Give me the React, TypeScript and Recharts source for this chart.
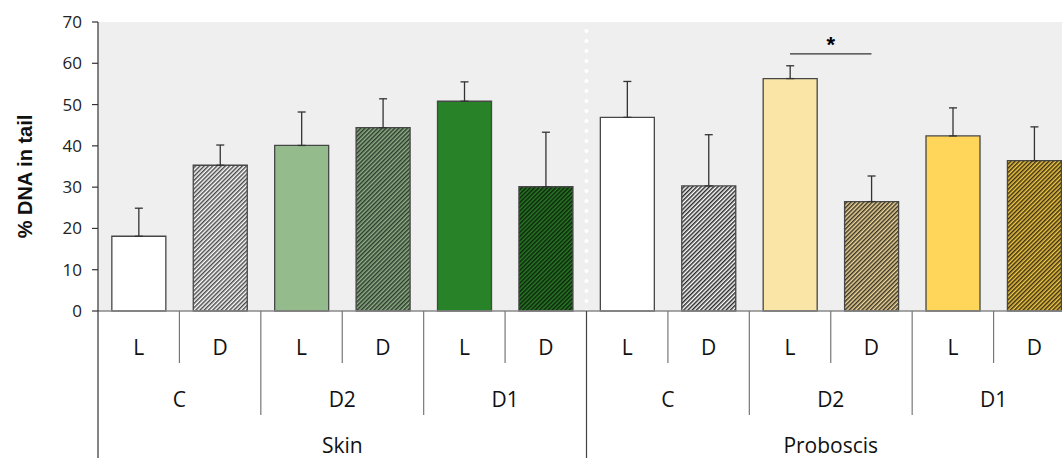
import React from 'react'
import { BarChart, Bar, XAxis, YAxis, CartesianGrid, ErrorBar, Cell, ReferenceLine } from 'recharts'

const tissues = ['Skin', 'Proboscis']
const treatments = ['C', 'D2', 'D1']
const conditions = ['L', 'D']

// mean % DNA in tail and upper error, in tissue > treatment > condition order
const means = [18.1, 35.3, 40.1, 44.4, 50.8, 30.1, 46.9, 30.3, 56.3, 26.5, 42.4, 36.4]
const errors = [6.8, 4.9, 8.1, 7.0, 4.7, 13.2, 8.7, 12.4, 3.1, 6.2, 6.8, 8.2]

const yTicks = [0, 10, 20, 30, 40, 50, 60, 70]

// significance bracket between proboscis D2 light and dark
const sigLevel = 62.3

const FILLS = [
  '#ffffff', 'url(#hatchGrey)', '#93bb8c', 'url(#hatchSage)', '#288227', 'url(#hatchForest)',
  '#ffffff', 'url(#hatchDark)', '#fae5a7', 'url(#hatchTan)', '#ffd55a', 'url(#hatchGold)',
]

const data = tissues.flatMap((tissue, t) =>
  treatments.flatMap((treatment, g) =>
    conditions.map((condition, c) => {
      const i = t * 6 + g * 2 + c
      return {
        key: `${tissue}-${treatment}-${condition}`,
        tissue,
        treatment,
        condition,
        mean: means[i],
        err: errors[i],
      }
    })
  )
)

const hatch = (id: string, bg: string, fg: string) => (
  <pattern id={id} width="3" height="3" patternUnits="userSpaceOnUse" patternTransform="rotate(45)">
    <rect width="3" height="3" fill={bg} />
    <line x1="0.75" y1="0" x2="0.75" y2="3" stroke={fg} strokeWidth="1.5" />
  </pattern>
)

const CHART_H = 458
const AXIS_Y = 311

// three-row category axis: condition / treatment / tissue, with divider lines
function GroupTick(props: any) {
  const { x, y, payload } = props
  const i: number = payload.index ?? props.index
  const half: number = payload.offset || 40.7
  const d = data[i]
  const bottom = CHART_H - y
  const txt = { fontSize: 21, fill: '#111', textAnchor: 'middle' as const }
  return (
    <g>
      <text x={x} y={y + 44} {...txt}>{d.condition}</text>
      {i % 2 === 0 && <line x1={x + half} x2={x + half} y1={y} y2={y + 52} stroke="#777" strokeWidth={1.2} />}
      {i % 2 === 1 && i % 6 !== 5 && <line x1={x + half} x2={x + half} y1={y} y2={y + 104} stroke="#777" strokeWidth={1.2} />}
      {i % 2 === 1 && <text x={x - half} y={y + 96} {...txt}>{d.treatment}</text>}
      {i % 6 === 5 && <line x1={x + half} x2={x + half} y1={y} y2={y + bottom} stroke="#444" strokeWidth={1.2} />}
      {i === 0 && <line x1={x - half} x2={x - half} y1={y} y2={y + bottom} stroke="#333" strokeWidth={1.2} />}
      {i % 6 === 3 && <text x={x - half} y={y + 142} {...txt}>{d.tissue}</text>}
    </g>
  )
}

export default function App() {
  return (
    <div style={{ position: 'absolute', left: 0, top: 0, width: 1062, height: CHART_H, overflow: 'hidden', background: '#fff', fontFamily: '"Open Sans", sans-serif' }}>
      <BarChart
        width={1075}
        height={CHART_H}
        data={data}
        margin={{ top: 22, right: 0, bottom: 0, left: 38 }}
        barCategoryGap="17%"
      >
        <defs>
          {hatch('hatchGrey', '#ffffff', '#4a4a4a')}
          {hatch('hatchSage', '#8fb088', '#2e3a2c')}
          {hatch('hatchForest', '#2a7a26', '#0b240b')}
          {hatch('hatchDark', '#ffffff', '#2a2a2a')}
          {hatch('hatchTan', '#f0d89a', '#3a3426')}
          {hatch('hatchGold', '#f2c744', '#3a3010')}
        </defs>
        <CartesianGrid horizontal={false} vertical={false} fill="#efefef" stroke="none" />
        <XAxis
          dataKey="key"
          height={CHART_H - AXIS_Y}
          interval={0}
          tickSize={0}
          tickMargin={0}
          tickLine={false}
          axisLine={{ stroke: '#888', strokeWidth: 1.5 }}
          tick={<GroupTick />}
        />
        <YAxis
          domain={[0, 70]}
          ticks={yTicks}
          interval={0}
          width={60}
          tickSize={6}
          tickMargin={10}
          axisLine={{ stroke: '#333', strokeWidth: 1.2 }}
          tickLine={{ stroke: '#333', strokeWidth: 1.2 }}
          tick={{ fontSize: 17, fill: '#222' }}
          label={{
            value: '% DNA in tail',
            angle: -90,
            position: 'insideLeft',
            dx: -18,
            dy: 10,
            style: { fontSize: 20, fontWeight: 700, fill: '#111', fontFamily: '"Liberation Sans", Arial, sans-serif', textAnchor: 'middle' },
          }}
        />
        <ReferenceLine
          x="Proboscis-C-L"
          position="start"
          stroke="#ffffff"
          strokeWidth={4}
          strokeDasharray="0 10"
          strokeLinecap="round"
        />
        <Bar dataKey="mean" stroke="#474747" strokeWidth={1.3} isAnimationActive={false}>
          {data.map((_, i) => (
            <Cell key={i} fill={FILLS[i]} />
          ))}
          <ErrorBar dataKey={(d: any) => [0, d.err]} direction="y" width={4} stroke="#333" strokeWidth={1.3} isAnimationActive={false} />
        </Bar>
        <ReferenceLine
          segment={[{ x: 'Proboscis-D2-L', y: sigLevel }, { x: 'Proboscis-D2-D', y: sigLevel }]}
          stroke="#333"
          strokeWidth={1.3}
          label={{ value: '*', position: 'top', offset: 2, fill: '#000', fontSize: 22, fontWeight: 700, fontFamily: '"Liberation Sans", Arial, sans-serif' }}
        />
      </BarChart>
    </div>
  )
}
